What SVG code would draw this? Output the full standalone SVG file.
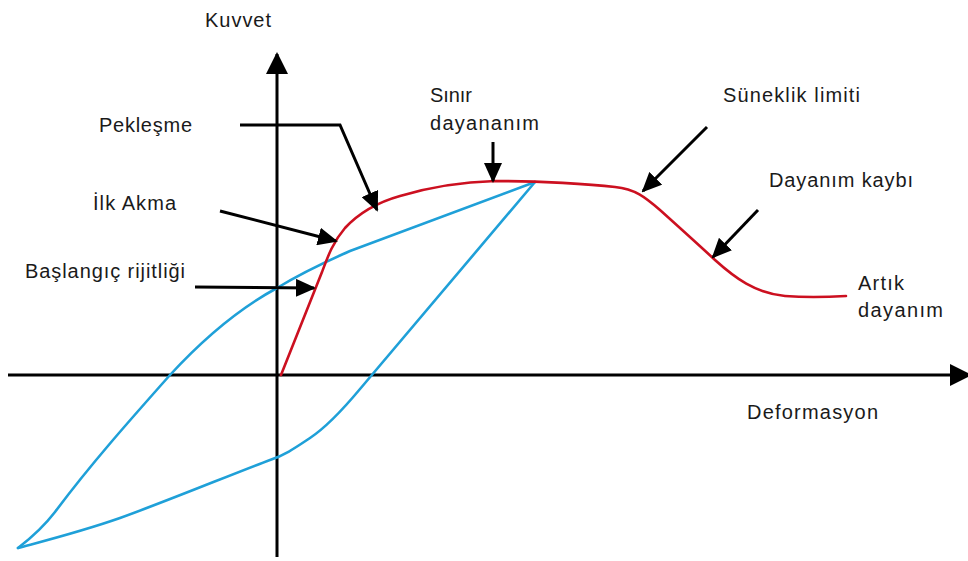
<svg xmlns="http://www.w3.org/2000/svg" width="968" height="561" viewBox="0 0 968 561">
<style>
text{font-family:"Liberation Sans",Arial,sans-serif;font-size:20px;fill:#1a1a1a;lengthAdjust:spacingAndGlyphs}
.axis{stroke:#000;stroke-width:3;fill:none}
.arrow{stroke:#000;stroke-width:3;fill:none;marker-end:url(#head)}
.red{stroke:#cc1020;stroke-width:2.6;fill:none;stroke-linejoin:round;stroke-linecap:round}
.blue{stroke:#1fa0d8;stroke-width:2.6;fill:none;stroke-linejoin:round;stroke-linecap:round}
</style>
<defs>
<marker id="head" viewBox="0 0 20 18" refX="18" refY="9" markerWidth="20" markerHeight="18" markerUnits="userSpaceOnUse" orient="auto">
<path d="M0,0 L20,9 L0,18 z" fill="#000"/>
</marker>
<marker id="axhead" viewBox="0 0 22 22" refX="20" refY="11" markerWidth="22" markerHeight="22" markerUnits="userSpaceOnUse" orient="auto">
<path d="M0,0 L22,11 L0,22 z" fill="#000"/>
</marker>
</defs>
<rect width="968" height="561" fill="#fff"/>
<g id="axes">
<line class="axis" x1="277" y1="557" x2="277" y2="54" marker-end="url(#axhead)"/>
<line class="axis" x1="8" y1="375" x2="970" y2="375" marker-end="url(#axhead)"/>
</g>
<g id="hysteresis">
<path class="blue" d="M18,548 C35,535 45,525 55,512 C90,465 130,420 170,375 C205,337 240,308 277,288 C300,274 325,262 350,251 L535,182"/>
<path class="blue" d="M535,182 L360,389 C340,413 325,428 310,438 C295,448 285,455 270,460 C230,475 170,500 120,518 C80,532 40,542 18,548"/>
</g>
<g id="envelope">
<path class="red" d="M281,375 L322,272 C328,256 333,242 345,228 C358,214 375,203 400,196 C430,187 460,182 495,181 C540,181 590,184 615,187 C635,189 645,197 660,210 C680,228 700,246 715,260 C735,278 755,293 785,296 C810,298 830,297 846,296"/>
</g>
<g id="label-kuvvet"><text x="205" y="27" textLength="66">Kuvvet</text></g>
<g id="label-deformasyon"><text x="747" y="419" textLength="131">Deformasyon</text></g>
<g id="label-peklesme"><text x="99" y="132" textLength="93">Pekleşme</text></g>
<g id="label-ilk-akma"><text x="93" y="210" textLength="83">İlk Akma</text></g>
<g id="label-baslangic"><text x="25" y="278" textLength="160">Başlangıç rijitliği</text></g>
<g id="label-sinir"><text x="430" y="102" textLength="42">Sınır</text><text x="430" y="130" textLength="109">dayananım</text></g>
<g id="label-suneklik"><text x="723" y="102" textLength="137">Süneklik limiti</text></g>
<g id="label-dayanim-kaybi"><text x="769" y="187" textLength="144">Dayanım kaybı</text></g>
<g id="label-artik"><text x="858" y="290" textLength="46">Artık</text><text x="858" y="317" textLength="85">dayanım</text></g>
<g id="connectors">
<path class="arrow" d="M240,125 L340,125 L377,210"/>
<path class="arrow" d="M220,211 L336,241"/>
<path class="arrow" d="M195,287 L314,288"/>
<path class="arrow" d="M493,142 L493,181"/>
<path class="arrow" d="M707,127 L643,191"/>
<path class="arrow" d="M758,210 L713,257"/>
</g>
</svg>
